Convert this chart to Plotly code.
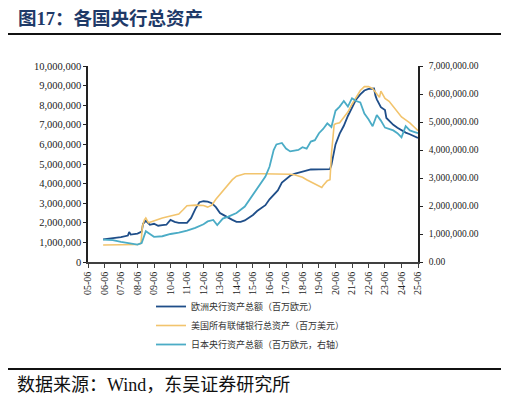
import plotly.graph_objects as go

# 欧洲央行资产总额（百万欧元），单位：百万 -> 左轴
ecb_dates = ["2006-05-31", "2006-12-31", "2007-06-30", "2007-11-30", "2007-12-28", "2008-01-31",
             "2008-06-30", "2008-09-30", "2008-10-31", "2008-12-31", "2009-03-31", "2009-06-30",
             "2009-09-30", "2009-12-31", "2010-03-31", "2010-06-30", "2010-09-30", "2010-12-31",
             "2011-06-30", "2011-09-30", "2011-12-31", "2012-03-31", "2012-06-30", "2012-09-30",
             "2012-12-31", "2013-03-31", "2013-06-30", "2013-09-30", "2013-12-31", "2014-03-31",
             "2014-06-30", "2014-09-30", "2014-12-31", "2015-03-31", "2015-06-30", "2015-09-30",
             "2015-12-31", "2016-03-31", "2016-06-30", "2016-09-30", "2016-12-31", "2017-03-31",
             "2017-06-30", "2017-09-30", "2017-12-31", "2018-06-30", "2018-12-31", "2019-06-30",
             "2019-12-31", "2020-02-28", "2020-03-31", "2020-06-30", "2020-09-30", "2020-12-31",
             "2021-03-31", "2021-06-30", "2021-09-30", "2021-12-31", "2022-03-31", "2022-06-30",
             "2022-10-31", "2022-11-30", "2022-12-31", "2023-03-31", "2023-06-30", "2023-07-31",
             "2023-09-30", "2023-12-31", "2024-03-31", "2024-06-30", "2024-09-30", "2024-12-31",
             "2025-03-31", "2025-06-30"]
ecb_vals = [1.15, 1.20, 1.27, 1.35, 1.53, 1.40,
            1.45, 1.55, 1.95, 2.10, 1.90, 1.95,
            1.85, 1.88, 1.90, 2.15, 2.05, 2.00,
            2.00, 2.25, 2.70, 3.05, 3.10, 3.08,
            3.00, 2.80, 2.50, 2.38, 2.25, 2.15,
            2.05, 2.05, 2.12, 2.25, 2.40, 2.60,
            2.75, 2.90, 3.20, 3.45, 3.65, 4.05,
            4.25, 4.40, 4.50, 4.62, 4.72, 4.73,
            4.74, 4.74, 4.95, 6.00, 6.55, 6.95,
            7.45, 7.90, 8.30, 8.55, 8.75, 8.83,
            8.85, 8.50, 8.30, 7.90, 7.75, 7.35,
            7.20, 7.00, 6.85, 6.72, 6.60, 6.52,
            6.42, 6.33]

# 美国所有联储银行总资产（百万美元） -> 左轴
fed_dates = ["2006-05-31", "2007-06-30", "2008-06-30", "2008-09-15", "2008-10-15", "2008-11-30",
             "2008-12-31", "2009-02-28", "2009-06-30", "2009-09-30", "2009-12-31", "2010-06-30",
             "2010-12-31", "2011-03-31", "2011-06-30", "2011-12-31", "2012-06-30", "2012-09-30",
             "2012-12-31", "2013-03-31", "2013-06-30", "2013-09-30", "2013-12-31", "2014-03-31",
             "2014-06-30", "2014-09-30", "2014-12-31", "2015-12-31", "2016-12-31", "2017-09-30",
             "2017-12-31", "2018-03-31", "2018-06-30", "2018-09-30", "2018-12-31", "2019-03-31",
             "2019-06-30", "2019-08-31", "2019-09-30", "2019-12-31", "2020-02-29", "2020-03-31",
             "2020-05-31", "2020-06-30", "2020-09-30", "2020-12-31", "2021-03-31", "2021-06-30",
             "2021-09-30", "2021-12-31", "2022-03-31", "2022-06-30", "2022-09-30", "2022-12-31",
             "2023-02-28", "2023-03-31", "2023-06-30", "2023-09-30", "2023-12-31", "2024-03-31",
             "2024-06-30", "2024-09-30", "2024-12-31", "2025-03-31", "2025-06-30"]
fed_vals = [0.87, 0.88, 0.89, 0.95, 1.80, 2.15,
            2.25, 2.00, 2.10, 2.20, 2.25, 2.35,
            2.45, 2.65, 2.87, 2.90, 2.88, 2.80,
            2.90, 3.20, 3.45, 3.70, 4.00, 4.20,
            4.38, 4.45, 4.50, 4.50, 4.50, 4.48,
            4.45, 4.40, 4.32, 4.20, 4.10, 3.98,
            3.88, 3.80, 3.90, 4.15, 4.20, 5.50,
            7.00, 7.05, 7.10, 7.35, 7.65, 8.05,
            8.40, 8.75, 8.95, 8.95, 8.85, 8.58,
            8.40, 8.72, 8.35, 8.20, 7.95, 7.70,
            7.40, 7.25, 7.10, 6.90, 6.70]

# 日本央行资产总额（百万欧元，右轴）
boj_dates = ["2006-05-31", "2006-12-31", "2007-06-30", "2007-12-31", "2008-06-30", "2008-09-30",
             "2008-12-31", "2009-03-31", "2009-06-30", "2009-12-31", "2010-06-30", "2010-12-31",
             "2011-06-30", "2011-12-31", "2012-06-30", "2012-09-30", "2013-01-31", "2013-04-30",
             "2013-08-31", "2013-12-31", "2014-06-30", "2014-12-31", "2015-06-30", "2015-12-31",
             "2016-03-31", "2016-06-30", "2016-09-30", "2016-11-30", "2017-03-31", "2017-06-30",
             "2017-09-30", "2017-12-31", "2018-03-31", "2018-06-30", "2018-09-30", "2018-12-31",
             "2019-03-31", "2019-06-30", "2019-09-30", "2019-12-31", "2020-03-31", "2020-06-30",
             "2020-09-30", "2020-12-31", "2021-03-31", "2021-06-30", "2021-09-30", "2021-12-31",
             "2022-03-31", "2022-06-30", "2022-09-30", "2022-12-31", "2023-03-31", "2023-06-30",
             "2023-09-30", "2023-12-31", "2024-03-31", "2024-06-30", "2024-09-30", "2024-12-31",
             "2025-03-31", "2025-06-30"]
boj_vals = [0.80, 0.78, 0.72, 0.68, 0.62, 0.68,
            1.10, 1.00, 0.90, 0.92, 1.00, 1.05,
            1.12, 1.22, 1.35, 1.45, 1.50, 1.32,
            1.55, 1.62, 1.75, 1.98, 2.40, 2.85,
            3.05, 3.40, 4.00, 4.20, 4.25, 4.05,
            3.95, 3.98, 4.00, 4.10, 4.05, 4.30,
            4.35, 4.60, 4.75, 4.95, 4.82, 5.40,
            5.55, 5.75, 5.55, 5.85, 5.75, 5.70,
            5.30, 5.10, 4.85, 5.25, 5.05, 4.80,
            4.75, 4.70, 4.60, 4.45, 4.85, 4.70,
            4.65, 4.60]

tick_dates = [f"{y}-06-30" for y in range(2005, 2026)]
tick_text = [f"{y % 100:02d}-06" for y in range(2005, 2026)]

names = ["欧洲央行资产总额（百万欧元）", "美国所有联储银行总资产（百万美元）", "日本央行资产总额（百万欧元，右轴）"]
colors = ["#1F4E89", "#F2C46D", "#4BACC6"]

M = 1_000_000
fig = go.Figure()
fig.add_trace(go.Scatter(x=ecb_dates, y=[v * M for v in ecb_vals], name=names[0],
                         mode="lines", line=dict(color=colors[0], width=1.8)))
fig.add_trace(go.Scatter(x=fed_dates, y=[v * M for v in fed_vals], name=names[1],
                         mode="lines", line=dict(color=colors[1], width=1.6)))
fig.add_trace(go.Scatter(x=boj_dates, y=[v * M for v in boj_vals], name=names[2], yaxis="y2",
                         mode="lines", line=dict(color=colors[2], width=1.8)))

serif = "Liberation Serif, Times New Roman, Noto Sans CJK SC"

# page has an 8px body margin, so the figure sits at (8, 8) in the window
OFF = 8
W, H = 509 - OFF, 402 - OFF
# plot area in window pixels: x 88..418, y 66..262
L, R, T, B = 88, 418, 66, 262

def px_x(p):
    return (p - L) / (R - L)

def px_y(p):
    return (B - p) / (B - T)

fig.update_layout(
    width=W, height=H,
    margin=dict(l=L - OFF, r=W - (R - OFF), t=T - OFF, b=H - (B - OFF), autoexpand=False),
    paper_bgcolor="white", plot_bgcolor="white",
    showlegend=True,
    legend=dict(x=px_x(151), y=px_y(292),
                xanchor="left", yanchor="top", bgcolor="rgba(0,0,0,0)",
                font=dict(family=serif, size=9, color="#333"), tracegroupgap=0),
    xaxis=dict(type="date", range=["2005-06-30", "2025-06-30"], tickvals=tick_dates,
               ticktext=tick_text, tickangle=-90,
               tickfont=dict(family=serif, size=10, color="#222"), ticks="outside",
               ticklen=4, tickcolor="#404040", showline=True, linecolor="#404040",
               linewidth=1.5, showgrid=False, zeroline=False),
    yaxis=dict(range=[0, 10 * M], dtick=M, tickformat=",d",
               tickfont=dict(family=serif, size=10.5, color="#222"),
               ticks="outside", ticklen=3, tickcolor="#222", showline=True,
               linecolor="#222", linewidth=1.5, showgrid=False, zeroline=False),
    yaxis2=dict(range=[0, 7 * M], dtick=M, tickformat=",.2f",
                tickfont=dict(family=serif, size=9.5, color="#222"),
                overlaying="y", side="right", anchor="x", ticks="outside", ticklen=3,
                ticklabelstandoff=4,
                tickcolor="#222", showline=True, linecolor="#222", linewidth=1.5,
                showgrid=False, zeroline=False),
    shapes=[
        dict(type="line", xref="paper", yref="paper", x0=px_x(8), x1=px_x(509),
             y0=px_y(34), y1=px_y(34), line=dict(color="#111", width=2)),
        dict(type="line", xref="paper", yref="paper", x0=px_x(8), x1=px_x(503),
             y0=px_y(369), y1=px_y(369), line=dict(color="#111", width=2)),
    ],
    annotations=[
        dict(text="<b>图17：各国央行总资产</b>", xref="paper", yref="paper",
             x=px_x(16), y=px_y(19), xanchor="left", yanchor="middle", showarrow=False,
             font=dict(family="Liberation Serif, Noto Sans CJK SC", size=18.5, color="#1F3A68")),
        dict(text="数据来源：Wind，东吴证券研究所", xref="paper", yref="paper",
             x=px_x(15), y=px_y(385), xanchor="left", yanchor="middle", showarrow=False,
             font=dict(family=serif, size=18, color="#111")),
    ],
)

fig.write_html("out.html")
